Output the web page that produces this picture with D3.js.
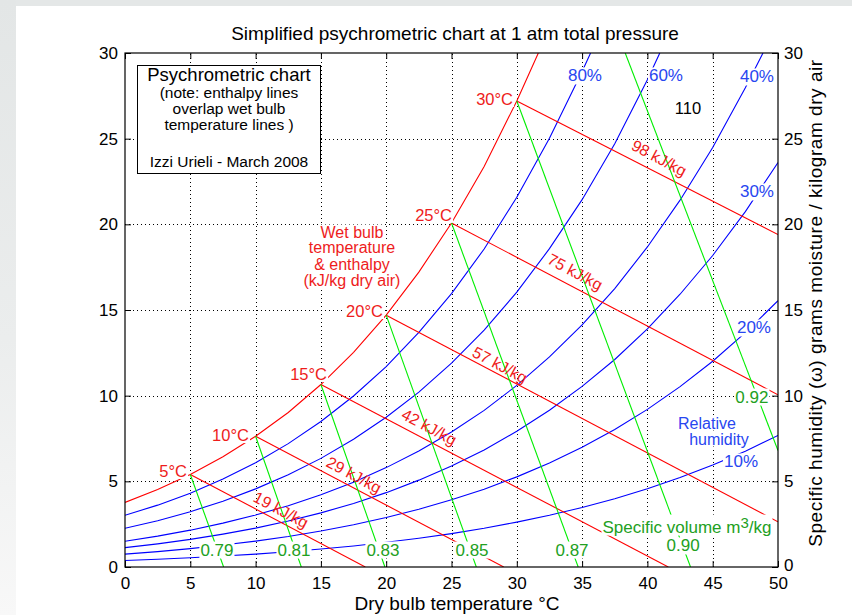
<!DOCTYPE html>
<html>
<head>
<meta charset="utf-8">
<script src="https://cdn.jsdelivr.net/npm/d3@7"></script>
<style>
  body { margin: 0; background: #fff; }
  text { font-family: "Liberation Sans", Arial, Helvetica, sans-serif; }
</style>
</head>
<body>
<svg id="chart" width="852" height="615"></svg>
<script>
// dry bulb temperatures (deg C) shared by the humidity curves
const dryBulb = [0, 2.5, 5, 7.5, 10, 12.5, 15, 17.5, 20, 22.5, 25, 27.5, 30, 32.5, 35, 37.5, 40, 42.5, 45, 47.5, 50];

// specific humidity (g/kg)
const saturation = [3.77, 4.52, 5.40, 6.43, 7.63, 9.02, 10.65, 12.53, 14.70, 17.21, 20.08, 23.38, 27.20];
const rh80 = [3.02, 3.61, 4.31, 5.14, 6.09, 7.20, 8.49, 9.98, 11.70, 13.69, 15.96, 18.56, 21.58, 25.02, 28.92];
const rh60 = [2.26, 2.70, 3.23, 3.84, 4.56, 5.38, 6.34, 7.46, 8.74, 10.21, 11.90, 13.82, 16.04, 18.58, 21.44, 24.70, 28.44];
const rh40 = [1.50, 1.80, 2.15, 2.56, 3.03, 3.58, 4.22, 4.95, 5.80, 6.77, 7.88, 9.14, 10.60, 12.26, 14.13, 16.25, 18.68, 21.41, 24.48, 27.97];
const rh30 = [1.13, 1.35, 1.61, 1.92, 2.27, 2.68, 3.16, 3.71, 4.34, 5.07, 5.89, 6.83, 7.92, 9.15, 10.54, 12.11, 13.90, 15.92, 18.18, 20.74, 23.61];
const rh20 = [0.75, 0.90, 1.07, 1.28, 1.51, 1.78, 2.10, 2.47, 2.89, 3.37, 3.92, 4.54, 5.26, 6.07, 6.99, 8.02, 9.20, 10.53, 12.01, 13.68, 15.54];
const rh10 = [0.38, 0.45, 0.54, 0.64, 0.75, 0.89, 1.05, 1.23, 1.44, 1.68, 1.95, 2.26, 2.62, 3.02, 3.47, 3.98, 4.57, 5.22, 5.95, 6.76, 7.68];
// temperature where a curve leaves the top of the chart (30 g/kg)
const satTopT = 31.65;
const rhTopT = [35.65, 40.95, 48.85, null, null, null];
const rhCurves = [rh80, rh60, rh40, rh30, rh20, rh10];
const rhNames = ['80%', '60%', '40%', '30%', '20%', '10%'];

// wet bulb / enthalpy lines: start on saturation, end point
const wetBulbT = [5, 10, 15, 20, 25, 30];
const wetBulbW = [5.40, 7.63, 10.65, 14.70, 20.08, 27.20];
const wetBulbEnd = [[18.4, 0], [29.0, 0], [41.6, 0], [50, 2.64], [50, 10.05], [50, 19.4]];
const enthalpy = ['19 kJ/kg', '29 kJ/kg', '42 kJ/kg', '57 kJ/kg', '75 kJ/kg', '98 kJ/kg'];

// specific volume lines (m3/kg)
const volNames = ['0.79', '0.81', '0.83', '0.85', '0.87', '0.90', '0.92'];
const volStart = [[5, 5.40], [10, 7.63], [15, 10.65], [20, 14.70], [25, 20.08], [30, 27.2], [38.3, 30]];
const volEnd = [[7.55, 0], [13.5, 0], [19.9, 0], [26.9, 0], [34.7, 0], [43.3, 0], [50, 6.8]];

const xTicks = [0, 5, 10, 15, 20, 25, 30, 35, 40, 45, 50];
const yTicks = [0, 5, 10, 15, 20, 25, 30];

const svg = d3.select('#chart');
const x = d3.scaleLinear().domain([0, 50]).range([125, 778]);
const y = d3.scaleLinear().domain([0, 30]).range([567, 53]);

// page frame
const defs = svg.append('defs');
const fade = defs.append('linearGradient').attr('id', 'fade')
  .attr('x1', '0%').attr('y1', '0%').attr('x2', '0%').attr('y2', '100%');
fade.append('stop').attr('offset', '0%').attr('stop-color', '#e3e6e6');
fade.append('stop').attr('offset', '55%').attr('stop-color', '#ebeded');
fade.append('stop').attr('offset', '100%').attr('stop-color', '#f8f8f8');
svg.append('rect').attr('width', 852).attr('height', 615).attr('fill', '#fff');
svg.append('rect').attr('width', 852).attr('height', 6).attr('fill', '#e4e7e7');
svg.append('rect').attr('width', 16).attr('height', 615).attr('fill', 'url(#fade)');

defs.append('clipPath').attr('id', 'plot')
  .append('rect').attr('x', x(0)).attr('y', y(30)).attr('width', x(50) - x(0)).attr('height', y(0) - y(30));

// dotted grid
const grid = svg.append('g').attr('stroke', '#000').attr('stroke-dasharray', '1,3').attr('stroke-width', 1);
xTicks.slice(1, -1).forEach(t => grid.append('line')
  .attr('x1', Math.round(x(t)) + 0.5).attr('x2', Math.round(x(t)) + 0.5).attr('y1', y(0)).attr('y2', y(30)));
yTicks.slice(1, -1).forEach(t => grid.append('line')
  .attr('y1', Math.round(y(t)) + 0.5).attr('y2', Math.round(y(t)) + 0.5).attr('x1', x(0)).attr('x2', x(50)));

const line = d3.line().x(d => x(d[0])).y(d => y(d[1]));
const curves = svg.append('g').attr('clip-path', 'url(#plot)').attr('fill', 'none').attr('stroke-width', 1.1);

// relative humidity lines
rhCurves.forEach((vals, i) => {
  const pts = vals.map((w, j) => [dryBulb[j], w]);
  if (rhTopT[i] !== null) pts.push([rhTopT[i], 30]);
  curves.append('path').attr('d', line(pts)).attr('stroke', '#0000ff');
});

// saturation curve
const satPts = saturation.map((w, j) => [dryBulb[j], w]);
satPts.push([satTopT, 30]);
curves.append('path').attr('d', line(satPts)).attr('stroke', '#ff0000');

// wet bulb / enthalpy lines
wetBulbT.forEach((t, i) => {
  curves.append('path').attr('d', line([[t, wetBulbW[i]], wetBulbEnd[i]])).attr('stroke', '#ff0000');
});

// specific volume lines
volStart.forEach((p, i) => {
  curves.append('path').attr('d', line([p, volEnd[i]])).attr('stroke', '#00ee00');
});

// labels
const annot = svg.append('g');
function addLabel(txt, T, W, color, size, anchor, bg) {
  const g = annot.append('g');
  const t = g.append('text').attr('x', x(T)).attr('y', y(W))
    .attr('fill', color).attr('font-size', size)
    .attr('text-anchor', anchor).attr('dominant-baseline', 'central').text(txt);
  if (bg) {
    const b = t.node().getBBox();
    g.insert('rect', 'text').attr('x', b.x - 1).attr('y', b.y + 1)
      .attr('width', b.width + 2).attr('height', b.height - 2).attr('fill', '#fff');
  }
  return t;
}

const red = '#ee1c1c', blue = '#2846f0', green = '#22a022';

// wet bulb temperature labels on the saturation curve
const wbLabelPos = [[4.75, 5.60], [9.49, 7.70], [15.47, 11.26], [19.75, 14.94], [25.04, 20.55], [29.71, 27.32]];
wetBulbT.forEach((t, i) => addLabel(t + '°C', wbLabelPos[i][0], wbLabelPos[i][1], red, 16.5, 'end', true));

// enthalpy labels along the lines
const hLabelPos = [[11.94, 3.33], [17.53, 5.37], [23.28, 8.17], [28.71, 11.79], [34.46, 17.22], [40.89, 23.87]];
enthalpy.forEach((h, i) => {
  annot.append('text')
    .attr('transform', `translate(${x(hLabelPos[i][0])},${y(hLabelPos[i][1])}) rotate(28)`)
    .attr('fill', red).attr('font-size', 16).attr('text-anchor', 'middle')
    .attr('dominant-baseline', 'central').text(h);
});

// relative humidity labels
const rhLabelPos = [[35.22, 28.66], [41.42, 28.66], [48.39, 28.6], [48.39, 21.89], [48.16, 13.95], [47.17, 6.13]];
rhNames.forEach((n, i) => addLabel(n, rhLabelPos[i][0], rhLabelPos[i][1], blue, 17, 'middle', true));
addLabel('Relative', 44.56, 8.40, blue, 16, 'middle', true);
addLabel('humidity', 45.48, 7.47, blue, 16, 'middle', true);

// specific volume labels
const volLabelPos = [[7.04, 0.99], [12.94, 0.99], [19.75, 0.99], [26.57, 0.99], [34.23, 0.99], [42.73, 1.23], [48.0, 9.92]];
volNames.forEach((n, i) => addLabel(n, volLabelPos[i][0], volLabelPos[i][1], green, 17, 'middle', true));
const sv = addLabel('Specific volume m', 43.03, 2.33, green, 17, 'middle', true);
sv.append('tspan').attr('font-size', 15).attr('dy', -5).text('3');
sv.append('tspan').attr('dy', 5).text('/kg');
{
  const g = d3.select(sv.node().parentNode);
  const b = sv.node().getBBox();
  g.select('rect').attr('x', b.x - 1).attr('y', b.y + 1).attr('width', b.width + 2).attr('height', b.height - 2);
}

addLabel('110', 43.11, 26.79, '#000', 16.5, 'middle', true);

// wet bulb explanation
['Wet bulb', 'temperature', '& enthalpy', '(kJ/kg dry air)'].forEach((s, i) => {
  addLabel(s, 17.38, [19.55, 18.62, 17.68, 16.72][i], red, 16, 'middle', true);
});

// legend box
const lg = svg.append('g');
lg.append('rect').attr('x', 137.5).attr('y', 65.5).attr('width', 183).attr('height', 108)
  .attr('fill', '#fff').attr('stroke', '#000').attr('stroke-width', 1);
const legendLines = [['Psychrometric chart', 81, 18.5], ['(note: enthalpy lines', 98, 15.5],
  ['overlap wet bulb', 114, 15.5], ['temperature lines )', 130, 15.5], ['Izzi Urieli - March 2008', 167, 15.5]];
legendLines.forEach(d => lg.append('text').attr('x', 229).attr('y', d[1]).attr('font-size', d[2])
  .attr('text-anchor', 'middle').attr('fill', '#000').text(d[0]));

// axes with inward ticks
function styleAxis(g) {
  g.select('.domain').remove();
  g.selectAll('text').attr('font-size', 17).attr('fill', '#000')
    .attr('font-family', '"Liberation Sans", Arial, Helvetica, sans-serif');
  g.selectAll('line').attr('stroke', '#000');
}
svg.append('g').attr('transform', `translate(0,${y(0)})`)
  .call(d3.axisBottom(x).tickValues(xTicks).tickSize(-6).tickPadding(10)).call(styleAxis);
svg.append('g').attr('transform', `translate(0,${y(30)})`)
  .call(d3.axisTop(x).tickValues(xTicks).tickSize(-6).tickFormat('')).call(styleAxis);
svg.append('g').attr('transform', `translate(${x(0)},0)`)
  .call(d3.axisLeft(y).tickValues(yTicks).tickSize(-6).tickPadding(7)).call(styleAxis);
const rightAxis = svg.append('g').attr('transform', `translate(${x(50)},0)`)
  .call(d3.axisRight(y).tickValues(yTicks).tickSize(-6).tickPadding(6)).call(styleAxis);
// keep the right-hand 0 clear of the bottom 50
rightAxis.selectAll('.tick').filter(d => d === 0).select('text').attr('dy', '0.2em');

svg.append('rect').attr('x', x(0)).attr('y', y(30)).attr('width', x(50) - x(0)).attr('height', y(0) - y(30))
  .attr('fill', 'none').attr('stroke', '#000').attr('stroke-width', 1.2);

// titles
svg.append('text').attr('x', 455).attr('y', 40).attr('text-anchor', 'middle')
  .attr('font-size', 19).attr('fill', '#000').text('Simplified psychrometric chart at 1 atm total pressure');
svg.append('text').attr('x', 457).attr('y', 610).attr('text-anchor', 'middle')
  .attr('font-size', 19).attr('fill', '#000').text('Dry bulb temperature °C');
svg.append('text').attr('transform', 'translate(822,303) rotate(-90)').attr('text-anchor', 'middle')
  .attr('font-size', 19).attr('letter-spacing', 0.55).attr('fill', '#000')
  .text('Specific humidity (ω) grams moisture / kilogram dry air');
</script>
</body>
</html>
